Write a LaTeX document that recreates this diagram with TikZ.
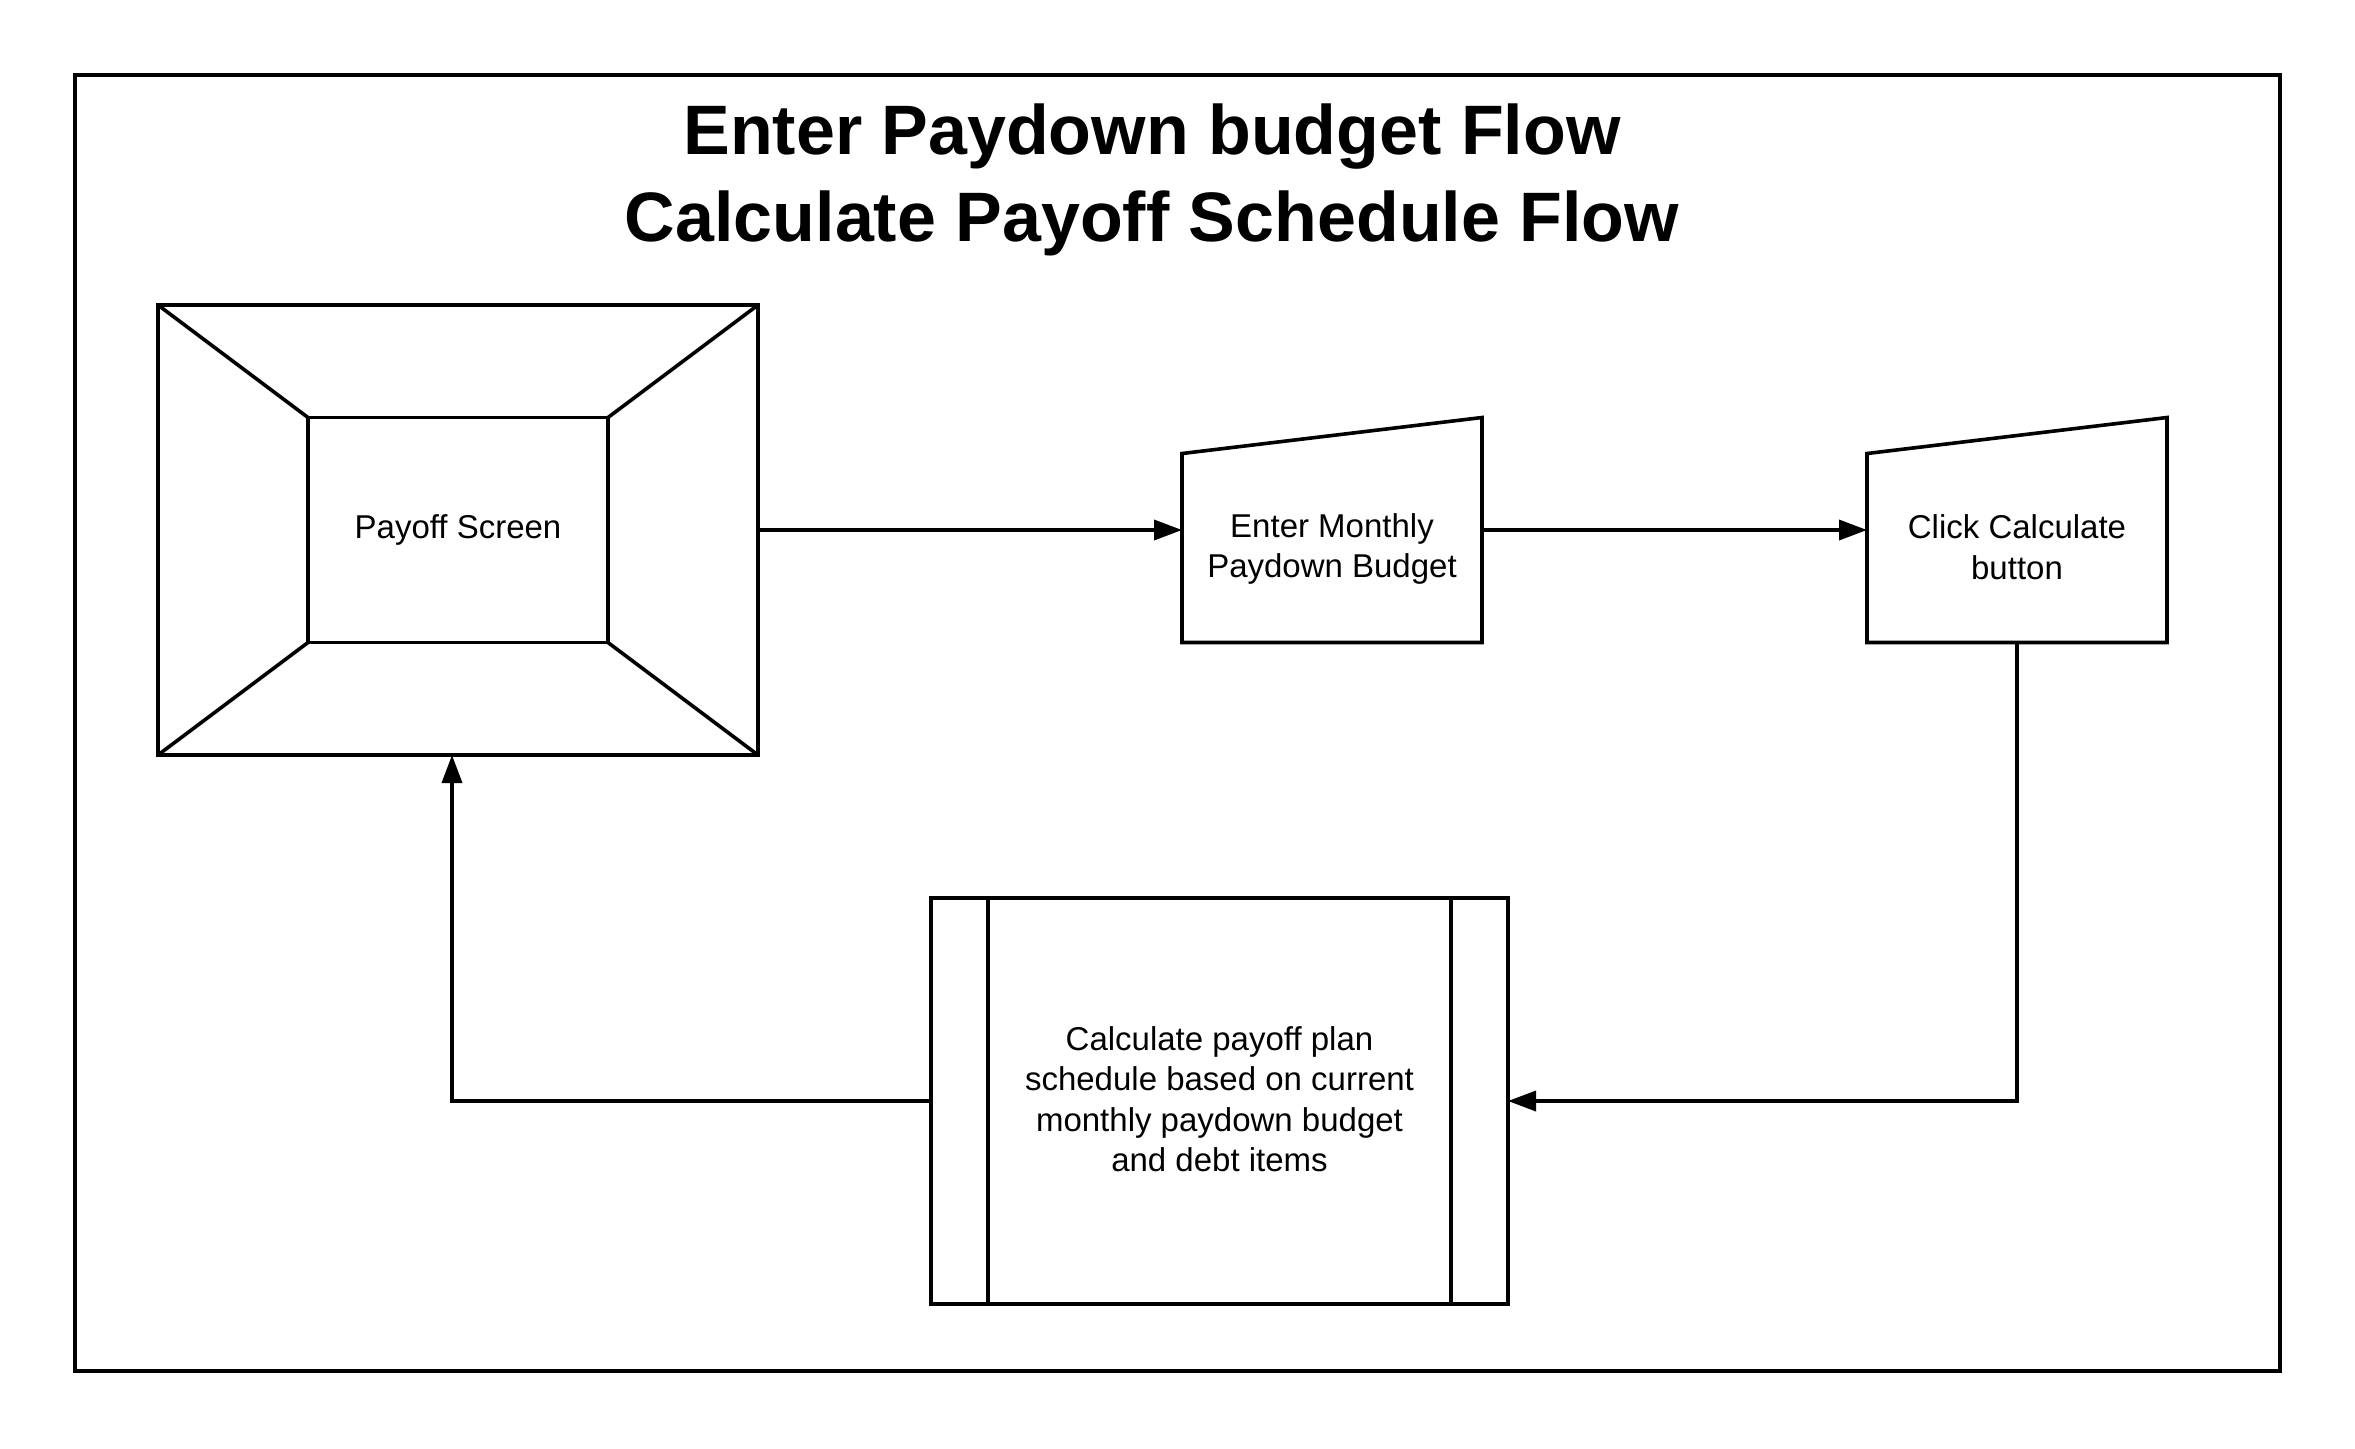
\documentclass[tikz,border=0pt]{standalone}
\usepackage{fontspec}
\setmainfont{Liberation Sans}
\usetikzlibrary{arrows.meta,calc}
\tikzset{
  px/.style={x=0.5pt,y=-0.5pt},
  ln/.style={line width=1.8pt,black},
  boxnode/.style={rectangle,inner sep=0pt,outer sep=0pt},
  lbl/.style={align=center,font=\fontsize{16.5}{20.25}\selectfont,inner sep=0pt},
  conn/.style={ln,-{Triangle[length=14pt,width=10pt]}},
}
\begin{document}
\begin{tikzpicture}[px]
\useasboundingbox (0,0) rectangle (2355,1448);
% frame
\draw[ln] (75,75) rectangle (2280,1371);
% title
\node[align=center,font=\fontsize{35}{43.5}\selectfont\bfseries] (title) at (1152,180) {Enter Paydown budget Flow\\Calculate Payoff Schedule Flow};
% payoff screen
\node[boxnode,draw,ln,minimum width=300pt,minimum height=225pt] (ps) at (458,530) {};
\node[boxnode,draw,ln,minimum width=150pt,minimum height=112.5pt] (psin) at (458,530) {};
\draw[ln] (ps.north west) -- (psin.north west);
\draw[ln] (ps.north east) -- (psin.north east);
\draw[ln] (ps.south west) -- (psin.south west);
\draw[ln] (ps.south east) -- (psin.south east);
\node[lbl] (pstext) at (458,530) {Payoff Screen};
% enter monthly (manual input)
\node[boxnode,minimum width=150pt,minimum height=112.5pt] (em) at (1332,530) {};
\draw[ln] (em.south west) -- (em.south east) -- (em.north east) -- ($(em.north west)+(0,36)$) -- cycle;
\node[lbl] (emtext) at (1332,549) {Enter Monthly\\Paydown Budget};
% click calculate (manual input)
\node[boxnode,minimum width=150pt,minimum height=112.5pt] (cc) at (2017,530) {};
\draw[ln] (cc.south west) -- (cc.south east) -- (cc.north east) -- ($(cc.north west)+(0,36)$) -- cycle;
\node[lbl] (cctext) at (2017,547) {Click Calculate\\button};
% predefined process
\node[boxnode,draw,ln,minimum width=288.5pt,minimum height=203pt] (pp) at (1219.5,1101) {};
\draw[ln] ($(pp.north west)+(57,0)$) -- ($(pp.south west)+(57,0)$);
\draw[ln] ($(pp.north east)+(-57,0)$) -- ($(pp.south east)+(-57,0)$);
\node[lbl] (pptext) at (1219.5,1099) {Calculate payoff plan\\schedule based on current\\monthly paydown budget\\and debt items};
% connectors
\draw[conn] (ps.east) -- (em.west);
\draw[conn] (em.east) -- (cc.west);
\draw[conn] (cc.south) |- (pp.east);
\draw[conn] (pp.west) -| ([xshift=-3pt]ps.south);
\end{tikzpicture}
\end{document}
